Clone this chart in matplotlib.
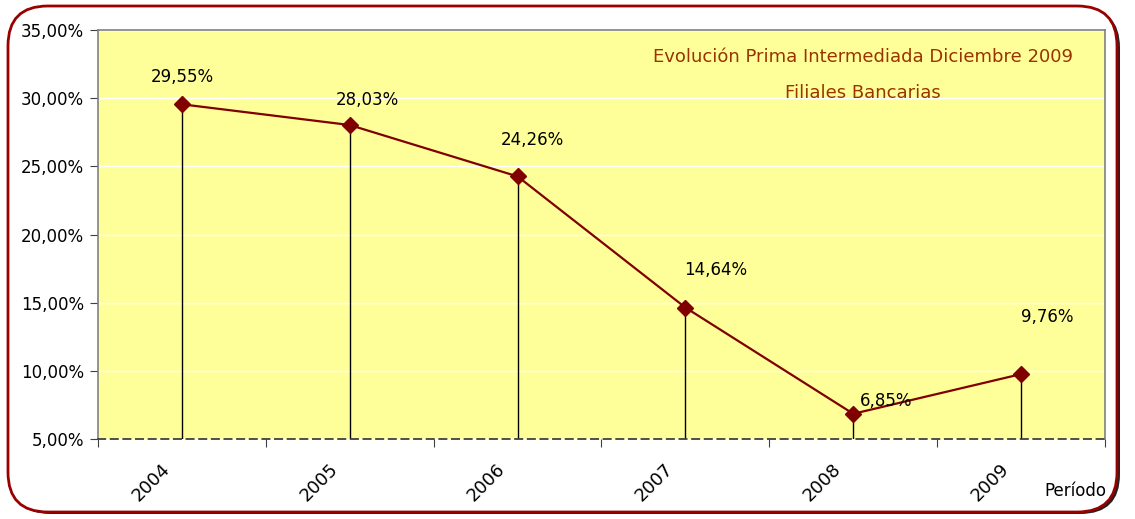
import matplotlib
matplotlib.use("Agg")
import matplotlib.pyplot as plt
from matplotlib.patches import FancyBboxPatch
from matplotlib.ticker import FuncFormatter, FixedLocator
from matplotlib.transforms import ScaledTranslation

years = ["2004", "2005", "2006", "2007", "2008", "2009"]
prima = [29.55, 28.03, 24.26, 14.64, 6.85, 9.76]
value_labels = ["29,55%", "28,03%", "24,26%", "14,64%", "6,85%", "9,76%"]

# label offsets in points (dx, dy) from each marker
label_offsets = [(0, 20), (13, 18), (11, 26), (22, 27), (24, 9), (19, 41)]

LINE = "#800000"
TITLE = "#993300"
PLOT_BG = "#FFFF99"
FONT = ["Liberation Sans Narrow", "DejaVu Sans"]

plt.rcParams["font.family"] = FONT

fig = plt.figure(figsize=(11.35, 5.19), dpi=100)
ax = fig.add_axes([98 / 1135, 1 - 439 / 519, (1105 - 98) / 1135, (439 - 30) / 519])

# rounded frame with a thin shadow at the bottom-right
shadow = FancyBboxPatch((11 / 1135, 5 / 519), 1109 / 1135, 506 / 519,
                        boxstyle="round,pad=0,rounding_size=0.035",
                        transform=fig.transFigure, facecolor="#222222",
                        edgecolor="none", lw=0, zorder=-3,
                        mutation_aspect=1135 / 519)
frame = FancyBboxPatch((8 / 1135, 7 / 519), 1109 / 1135, 506 / 519,
                       boxstyle="round,pad=0,rounding_size=0.035",
                       transform=fig.transFigure, facecolor="white",
                       edgecolor="#990000", lw=2, zorder=-2,
                       mutation_aspect=1135 / 519)
fig.patches.extend([shadow, frame])

ax.set_facecolor(PLOT_BG)
ax.set_xlim(-0.5, len(years) - 0.5)
ax.set_ylim(5, 35)

ax.yaxis.set_major_locator(FixedLocator([5, 10, 15, 20, 25, 30, 35]))
ax.yaxis.set_major_formatter(FuncFormatter(lambda v, p: f"{v:.2f}%".replace(".", ",")))
ax.grid(axis="y", color="white", lw=1)
ax.set_axisbelow(True)

xs = list(range(len(years)))
ax.vlines(xs, 5, prima, color="black", lw=1, zorder=2)
ax.plot(xs, prima, color=LINE, lw=1.6, marker="D", markersize=8, zorder=3)

for x, y, lab, (dx, dy) in zip(xs, prima, value_labels, label_offsets):
    ax.annotate(lab, (x, y), xytext=(dx, dy), textcoords="offset points",
                ha="center", va="center", fontsize=12, color="black")

# category boundary ticks, year labels between them
ax.set_xticks([i - 0.5 for i in range(len(years) + 1)])
ax.set_xticklabels([])
ax.set_xticks(xs, minor=True)
ax.set_xticklabels(years, minor=True, rotation=45, fontsize=13,
                   ha="center", va="center")
ax.tick_params(axis="x", which="minor", length=0, pad=31)
ax.tick_params(axis="x", which="major", length=6, color="#404040")
ax.tick_params(axis="y", length=6, color="#404040", labelsize=12, pad=4)
shift = ScaledTranslation(-0.31, 0, fig.dpi_scale_trans)
for lab in ax.get_xticklabels(minor=True):
    lab.set_transform(lab.get_transform() + shift)

for side in ["top", "right", "left"]:
    ax.spines[side].set_color("#808080")
    ax.spines[side].set_linewidth(1.2)
ax.spines["bottom"].set_color("#404040")
ax.spines["bottom"].set_linestyle((0, (4, 3)))
ax.spines["bottom"].set_linewidth(1.3)

ax.text(0.76, 0.935, "Evolución Prima Intermediada Diciembre 2009", transform=ax.transAxes,
        ha="center", va="center", fontsize=13, color=TITLE)
ax.text(0.76, 0.847, "Filiales Bancarias", transform=ax.transAxes,
        ha="center", va="center", fontsize=13, color=TITLE)

fig.text(1075 / 1135, 1 - 491 / 519, "Período", ha="center", va="center", fontsize=12)

fig.savefig("out.png", dpi=100, facecolor="white")
